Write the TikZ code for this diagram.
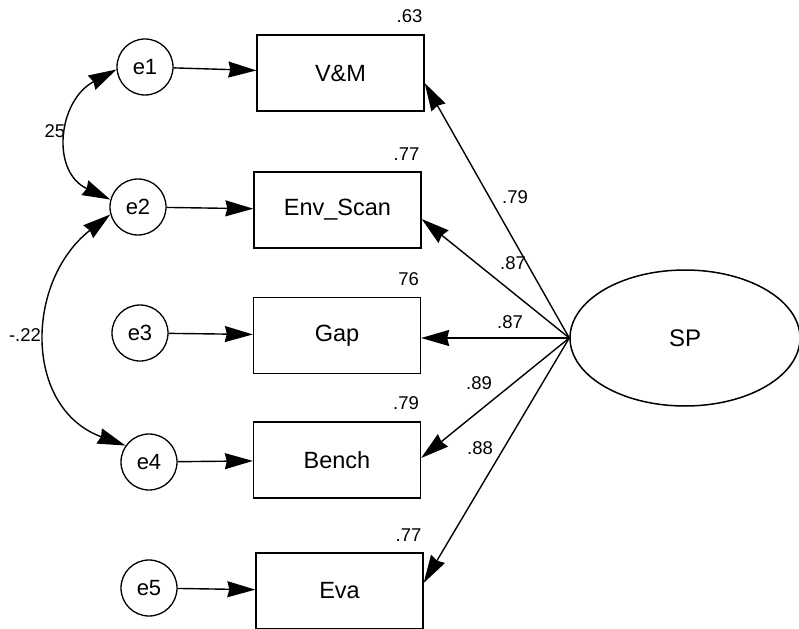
\documentclass[tikz,border=0pt]{standalone}
\usepackage{fontspec}
\setmainfont{Liberation Sans}
\usepackage{tikz}
\usetikzlibrary{arrows.meta}
\usetikzlibrary{shapes.geometric}

\begin{document}
\begin{tikzpicture}[x=1pt,y=1pt,
    >={Stealth[length=28pt,width=16pt,inset=2pt]},
    every node/.style={font=\fontsize{23.5}{27}\selectfont},
    err/.style={draw,circle,line width=1.3pt,minimum size=56pt,inner sep=0pt,font=\fontsize{22}{26}\selectfont},
    obs/.style={draw,rectangle,line width=1.3pt,minimum width=167pt,minimum height=76pt},
    num/.style={inner sep=0pt,font=\fontsize{18.5}{22}\selectfont},
    lnk/.style={->,line width=1.4pt}]
  \useasboundingbox (0,0) rectangle (799,-628);

  % observed variables
  \node[obs] (vm)    at (340.5,-73)  {V\&M};
  \node[obs] (env)   at (337.5,-210) {Env\_Scan};
  \node[obs] (gap)   at (337,-335.5) {Gap};
  \node[obs] (bench) at (337,-460)   {Bench};
  \node[obs] (eva)   at (339.5,-591) {Eva};

  % error terms
  \node[err] (e1) at (145,-67)  {e1};
  \node[err] (e2) at (138,-207) {e2};
  \node[err] (e3) at (140,-333) {e3};
  \node[err] (e4) at (149,-462) {e4};
  \node[err] (e5) at (149,-588) {e5};

  % latent factor
  \node[draw,ellipse,line width=1.5pt,minimum width=230pt,minimum height=136pt,
        font=\fontsize{24}{28}\selectfont] (sp) at (685,-338) {SP};

  \foreach \e/\o in {e1/vm,e2/env,e3/gap,e4/bench,e5/eva}
    \draw[lnk] (\e) -- (\o);

  % loadings hit the right side a little off centre
  \foreach \o/\s/\r in {vm/-10/.63,env/-9/.77,gap/-2.5/76,bench/2/.79,eva/8/.77}{
    \draw[lnk] (sp.west) -- ([yshift=\s pt]\o.east);
    \node[num,anchor=south east] (r-\o) at ([yshift=11pt,xshift=-2pt]\o.north east) {\r};
  }

  \node[num] (l-vm)    at (515,-197) {.79};
  \node[num] (l-env)   at (513,-263) {.87};
  \node[num] (l-gap)   at (510,-322) {.87};
  \node[num] (l-bench) at (479,-383) {.89};
  \node[num] (l-eva)   at (480,-448) {.88};

  % covariances
  \draw[lnk,<->] (e1.185) to[out=208,in=155,looseness=1.3] (e2.165);
  \draw[lnk,<->] (e2.195) to[out=218,in=160,looseness=1.2] (e4.145);
  \node[num] (c12) at (55,-131) {25};
  \node[num] (c24) at (25,-335) {-.22};
\end{tikzpicture}
\end{document}
